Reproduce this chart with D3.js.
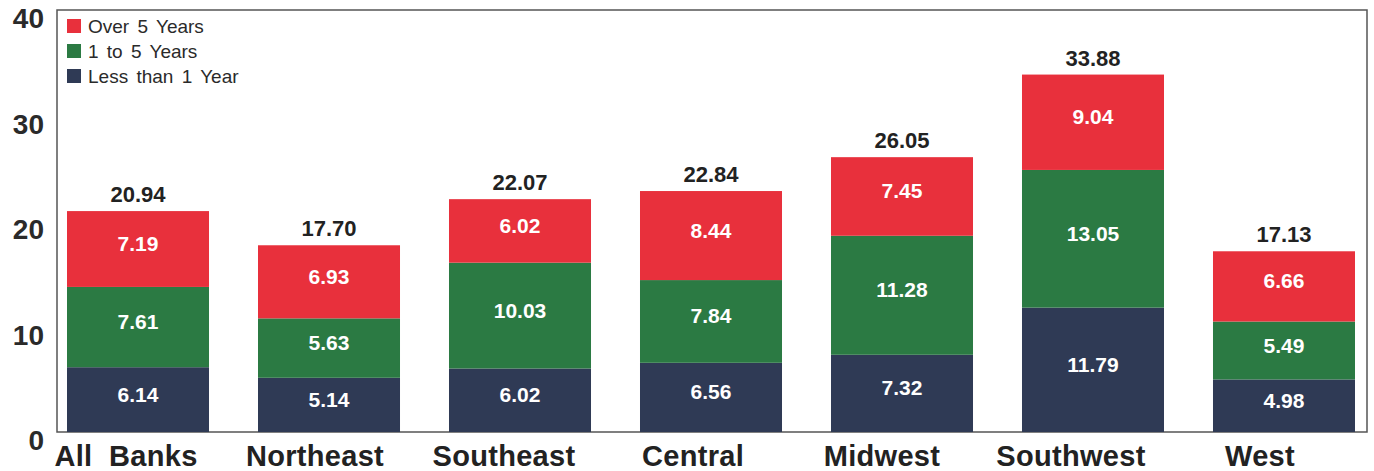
<!DOCTYPE html>
<html>
<head>
<meta charset="utf-8">
<script src="https://cdn.jsdelivr.net/npm/d3@7"></script>
<style>
  body { margin: 0; background: #fff; }
  text { font-family: "Liberation Sans", Arial, Helvetica, sans-serif; }
</style>
</head>
<body>
<script>
const categories = ['All  Banks', 'Northeast', 'Southeast', 'Central', 'Midwest', 'Southwest', 'West'];
const lessThan1 = [6.14, 5.14, 6.02, 6.56, 7.32, 11.79, 4.98];
const oneTo5 = [7.61, 5.63, 10.03, 7.84, 11.28, 13.05, 5.49];
const over5 = [7.19, 6.93, 6.02, 8.44, 7.45, 9.04, 6.66];
const totals = ['20.94', '17.70', '22.07', '22.84', '26.05', '33.88', '17.13'];
const seriesNames = ['Less than 1 Year', '1 to 5 Years', 'Over 5 Years'];
const yTicks = [0, 10, 20, 30, 40];

const width = 1374, height = 471;
const colors = ['#2f3a55', '#2b7a43', '#e8303c'];

const svg = d3.select('body').append('svg')
	.attr('width', width)
	.attr('height', height);

const y = d3.scaleLinear().domain([0, 40]).range([432, 10]);
const x = d3.scaleBand().domain(categories).range([67, 1355]).paddingInner(0.2565).paddingOuter(0);
// the category names sit on a slightly tighter spacing than the bars
const xLabel = d3.scalePoint().domain(categories).range([126, 1260]);

const rows = categories.map(function(c, i) {
	return { cat: c, s0: lessThan1[i], s1: oneTo5[i], s2: over5[i] };
});
const stacked = d3.stack().keys(['s0', 's1', 's2'])(rows);

// frame
svg.append('rect')
	.attr('x', 57).attr('y', 10)
	.attr('width', 1310).attr('height', 422)
	.attr('fill', 'none')
	.attr('stroke', '#555')
	.attr('stroke-width', 1.5);

// y tick labels
svg.selectAll('.ytick')
	.data(yTicks)
	.enter()
	.append('text')
	.attr('x', 44)
	.attr('y', function(d) { return y(d) + 18; })
	.attr('text-anchor', 'end')
	.attr('font-size', 28)
	.attr('font-weight', 'bold')
	.attr('fill', '#2a2a2a')
	.text(function(d) { return d; });

// bars
stacked.forEach(function(layer, k) {
	const g = svg.append('g');
	g.selectAll('rect')
		.data(layer)
		.enter()
		.append('rect')
		.attr('x', function(d) { return x(d.data.cat); })
		.attr('y', function(d) { return y(d[1]); })
		.attr('width', x.bandwidth())
		.attr('height', function(d) { return y(d[0]) - y(d[1]); })
		.attr('fill', colors[k]);

	g.selectAll('text')
		.data(layer)
		.enter()
		.append('text')
		.attr('x', function(d) { return x(d.data.cat) + x.bandwidth() / 2; })
		.attr('y', function(d) { return (y(d[0]) + y(d[1])) / 2 + 2; })
		.attr('text-anchor', 'middle')
		.attr('font-size', 21)
		.attr('font-weight', 'bold')
		.attr('fill', '#fff')
		.text(function(d) { return (d[1] - d[0]).toFixed(2); });
});

// totals above the bars
svg.selectAll('.total')
	.data(categories)
	.enter()
	.append('text')
	.attr('x', function(d) { return x(d) + x.bandwidth() / 2; })
	.attr('y', function(d, i) { return y(+totals[i]) - 9; })
	.attr('text-anchor', 'middle')
	.attr('font-size', 22)
	.attr('font-weight', 'bold')
	.attr('fill', '#222')
	.text(function(d, i) { return totals[i]; });

// category labels
svg.selectAll('.cat')
	.data(categories)
	.enter()
	.append('text')
	.attr('x', function(d) { return xLabel(d); })
	.attr('y', 466)
	.attr('text-anchor', 'middle')
	.attr('font-size', 29)
	.attr('font-weight', 'bold')
	.attr('letter-spacing', 0.3)
	.attr('fill', '#222')
	.style('white-space', 'pre')
	.text(function(d) { return d; });

// legend, top item is the top of the stack
const legend = svg.append('g');
const legendItems = seriesNames.slice().reverse();
legendItems.forEach(function(name, i) {
	legend.append('rect')
		.attr('x', 67).attr('y', 19 + i * 25)
		.attr('width', 14).attr('height', 14)
		.attr('fill', colors[2 - i]);
	legend.append('text')
		.attr('x', 88).attr('y', 33 + i * 25)
		.attr('font-size', 19)
		.attr('word-spacing', 3)
		.attr('fill', '#2a2a2a')
		.text(name);
});
</script>
</body>
</html>
